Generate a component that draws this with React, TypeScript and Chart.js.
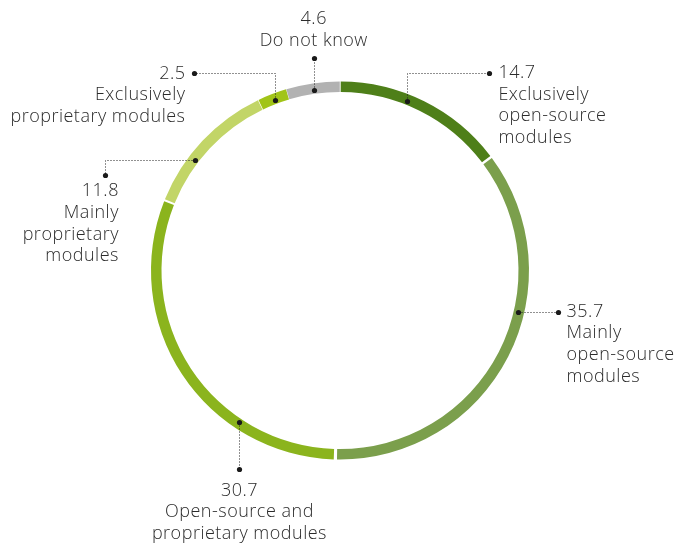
import React, { useEffect, useRef } from "react";
import { Chart, registerables } from "chart.js";

Chart.register(...registerables);

const categories = [
  "Exclusively open-source modules",
  "Mainly open-source modules",
  "Open-source and proprietary modules",
  "Mainly proprietary modules",
  "Exclusively proprietary modules",
  "Do not know",
];
const values = [14.7, 35.7, 30.7, 11.8, 2.5, 4.6];
const valueLabels = ["14.7", "35.7", "30.7", "11.8", "2.5", "4.6"];
const labelLines = [
  ["Exclusively", "open-source", "modules"],
  ["Mainly", "open-source", "modules"],
  ["Open-source and", "proprietary modules"],
  ["Mainly", "proprietary", "modules"],
  ["Exclusively", "proprietary modules"],
  ["Do not know"],
];
const colors = ["#4e7f19", "#7b9f4c", "#8bb41d", "#c2d567", "#a1c418", "#b2b2b2"];

// annotation layout: anchor fraction along arc, leader route, text placement
const layouts = [
  { frac: 0.41, route: [[0, -28], [82, 0]], align: "left", tdx: 9, tdy: 0 },
  { frac: 0.39, route: [[40, 0]], align: "left", tdx: 9, tdy: 0 },
  { frac: 0.29, route: [[0, 47]], align: "center", tdx: 0, tdy: 21 },
  { frac: 0.36, route: [[-90, 0], [0, 15]], align: "right", tdx: 14, tdy: 16 },
  { frac: 0.5, route: [[0, -27], [-81, 0]], align: "right", tdx: -8, tdy: 0 },
  { frac: 0.5, route: [[0, -32]], align: "center", tdx: 0, tdy: -39 },
];

const FONT = "300 18px 'Open Sans'";
const LINE_H = 21.6;

const leaderPlugin = {
  id: "leaders",
  afterDraw(chart: any) {
    const ctx = chart.ctx;
    const meta = chart.getDatasetMeta(0);
    meta.data.forEach((arc: any, i: number) => {
      const lay = layouts[i];
      const a = arc.startAngle + lay.frac * (arc.endAngle - arc.startAngle);
      const r = (arc.innerRadius + arc.outerRadius) / 2;
      let x = arc.x + Math.cos(a) * r;
      let y = arc.y + Math.sin(a) * r;
      const pts = [[x, y]];
      lay.route.forEach(([dx, dy]) => {
        x += dx;
        y += dy;
        pts.push([x, y]);
      });
      ctx.save();
      ctx.strokeStyle = "#222";
      ctx.lineWidth = 1;
      ctx.setLineDash([1, 2]);
      ctx.beginPath();
      ctx.moveTo(Math.round(pts[0][0]) + 0.5, Math.round(pts[0][1]) + 0.5);
      for (let k = 1; k < pts.length; k++) {
        ctx.lineTo(Math.round(pts[k][0]) + 0.5, Math.round(pts[k][1]) + 0.5);
      }
      ctx.stroke();
      ctx.setLineDash([]);
      ctx.fillStyle = "#1a1a1a";
      [pts[0], pts[pts.length - 1]].forEach((p) => {
        ctx.beginPath();
        ctx.arc(Math.round(p[0]) + 0.5, Math.round(p[1]) + 0.5, 2.6, 0, Math.PI * 2);
        ctx.fill();
      });
      ctx.fillStyle = "#2b2b2b";
      ctx.font = FONT;
      (ctx as any).letterSpacing = "0.5px";
      ctx.textAlign = lay.align;
      ctx.textBaseline = "middle";
      const lines = [valueLabels[i], ...labelLines[i]];
      const tx = x + lay.tdx;
      const ty = y + lay.tdy;
      lines.forEach((ln, k) => {
        ctx.fillText(ln, tx, ty + k * LINE_H);
      });
      ctx.restore();
    });
  },
};

export default function App() {
  const ref = useRef<HTMLCanvasElement>(null);
  useEffect(() => {
    if (!ref.current) return;
    const chart = new Chart(ref.current, {
      type: "doughnut",
      data: {
        labels: categories,
        datasets: [
          {
            data: values,
            backgroundColor: colors,
            borderWidth: 0,
            spacing: 3,
          },
        ],
      },
      options: {
        animation: false,
        responsive: false,
        radius: 187.5,
        cutout: "94.4%",
        layout: { padding: { left: 0, right: 1, top: 0, bottom: 2 } },
        plugins: { legend: { display: false }, tooltip: { enabled: false } },
      } as any,
      plugins: [leaderPlugin],
    });
    return () => chart.destroy();
  }, []);
  return (
    <div style={{ position: "absolute", left: 0, top: 0, width: 681, height: 543, background: "#fff" }}>
      <canvas ref={ref} width={681} height={543} />
    </div>
  );
}
